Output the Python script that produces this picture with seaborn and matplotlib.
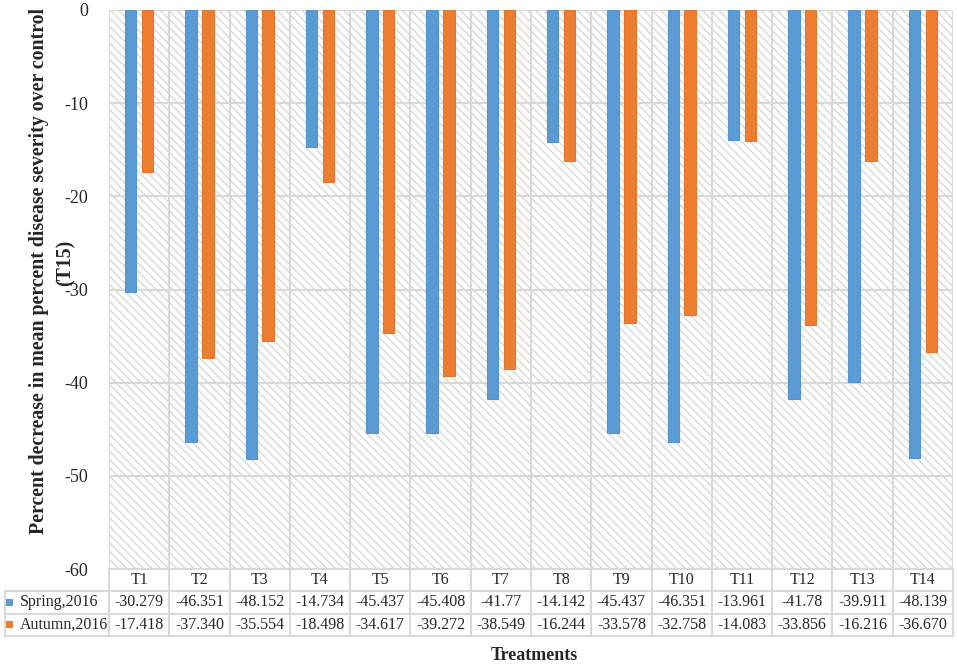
import matplotlib
matplotlib.use("Agg")
import matplotlib.pyplot as plt
import seaborn as sns
import pandas as pd
from matplotlib.patches import Rectangle

treatments = ["T1", "T2", "T3", "T4", "T5", "T6", "T7", "T8", "T9", "T10", "T11", "T12", "T13", "T14"]
series_names = ["Spring,2016", "Autumn,2016"]
spring_text = ["-30.279", "-46.351", "-48.152", "-14.734", "-45.437", "-45.408", "-41.77",
               "-14.142", "-45.437", "-46.351", "-13.961", "-41.78", "-39.911", "-48.139"]
autumn_text = ["-17.418", "-37.340", "-35.554", "-18.498", "-34.617", "-39.272", "-38.549",
               "-16.244", "-33.578", "-32.758", "-14.083", "-33.856", "-16.216", "-36.670"]
spring = [float(s) for s in spring_text]
autumn = [float(s) for s in autumn_text]
y_ticks = [0, -10, -20, -30, -40, -50, -60]
colors = ["#5B9BD5", "#ED7D31"]
edge_colors = ["#5594CC", "#E2772E"]
grid_color = "#D9D9D9"

sns.set_style("white")
plt.rcParams["font.family"] = ["Liberation Serif", "DejaVu Serif"]
plt.rcParams["axes.unicode_minus"] = False
plt.rcParams["hatch.linewidth"] = 1.0
plt.rcParams["hatch.color"] = grid_color

df = pd.DataFrame({
    "Treatment": treatments * 2,
    "Season": [series_names[0]] * len(treatments) + [series_names[1]] * len(treatments),
    "Value": spring + autumn,
})

W, H = 957, 666
fig = plt.figure(figsize=(W / 100, H / 100), dpi=100)
left_px, right_px, top_px, bot_px = 109, 953, 10, 569
ax = fig.add_axes([left_px / W, 1 - bot_px / H, (right_px - left_px) / W, (bot_px - top_px) / H])

# hatched background
ax.add_patch(Rectangle((0, 0), 1, 1, transform=ax.transAxes, facecolor="white",
                       edgecolor=grid_color, hatch="\\\\\\\\", linewidth=0, zorder=0))

sns.barplot(data=df, x="Treatment", y="Value", hue="Season", order=treatments,
            hue_order=series_names, palette=colors, saturation=1, width=0.56, gap=0.32,
            ax=ax, legend=False, zorder=3)
for i, container in enumerate(ax.containers):
    for p in container:
        p.set_edgecolor(edge_colors[i])
        p.set_linewidth(0.8)

ax.set_ylim(-60, 0)
ax.set_xlim(-0.5, len(treatments) - 0.5)
ax.set_yticks(y_ticks)
ax.set_yticklabels([str(t) for t in y_ticks], fontsize=13)
ax.set_xticks([])
ax.set_xlabel("")
ax.tick_params(axis="y", length=0, pad=15)

for t in y_ticks:
    ax.axhline(t, color=grid_color, lw=1.5, zorder=1)
for k in range(len(treatments) + 1):
    ax.axvline(k - 0.5, color=grid_color, lw=1.5, zorder=1)
for s in ax.spines.values():
    s.set_visible(False)

aw = right_px - left_px
ah = bot_px - top_px

ax.set_ylabel("Percent decrease in mean percent disease severity over control",
              fontsize=14.3, fontweight="bold")
ax.yaxis.set_label_coords((49 - left_px) / aw, 1 - (271 - top_px) / ah)
ax.text((66 - left_px) / aw, 1 - (263 - top_px) / ah, "(T15)",
        transform=ax.transAxes, rotation=90, ha="center", va="center",
        fontsize=14.3, fontweight="bold")

# data table
tab_left = 5
tab_top = 569
tab_bot = 636
tbl = ax.table(cellText=[[""] + spring_text, [""] + autumn_text], colLabels=[""] + treatments,
               colWidths=[(left_px - tab_left) / aw] + [60.3 / aw] * len(treatments),
               cellLoc="center", bbox=[(tab_left - left_px) / aw, -(tab_bot - tab_top) / ah,
                                       (right_px - tab_left) / aw, (tab_bot - tab_top) / ah])
tbl.auto_set_font_size(False)
tbl.set_fontsize(11.5)
for (r, c), cell in tbl.get_celld().items():
    cell.set_edgecolor(grid_color)
    cell.set_linewidth(1.5)
    cell.set_facecolor("white")
    if r == 0 and c == 0:
        cell.visible_edges = "B"

row_centers = [602, 624.5]
for name, col, yc in zip(series_names, colors, row_centers):
    ya = 1 - (yc - top_px) / ah
    ax.add_patch(Rectangle(((6 - left_px) / aw, ya - 3.5 / ah), 7 / aw, 7 / ah,
                           transform=ax.transAxes, facecolor=col, edgecolor="none",
                           clip_on=False, zorder=5))
    ax.text((20 - left_px) / aw, ya, name, transform=ax.transAxes, ha="left", va="center",
            fontsize=11.5, zorder=5)

fig.text(534 / W, 1 - 655 / H, "Treatments", ha="center", va="center", fontsize=13, fontweight="bold")

fig.savefig("out.png", dpi=100)
